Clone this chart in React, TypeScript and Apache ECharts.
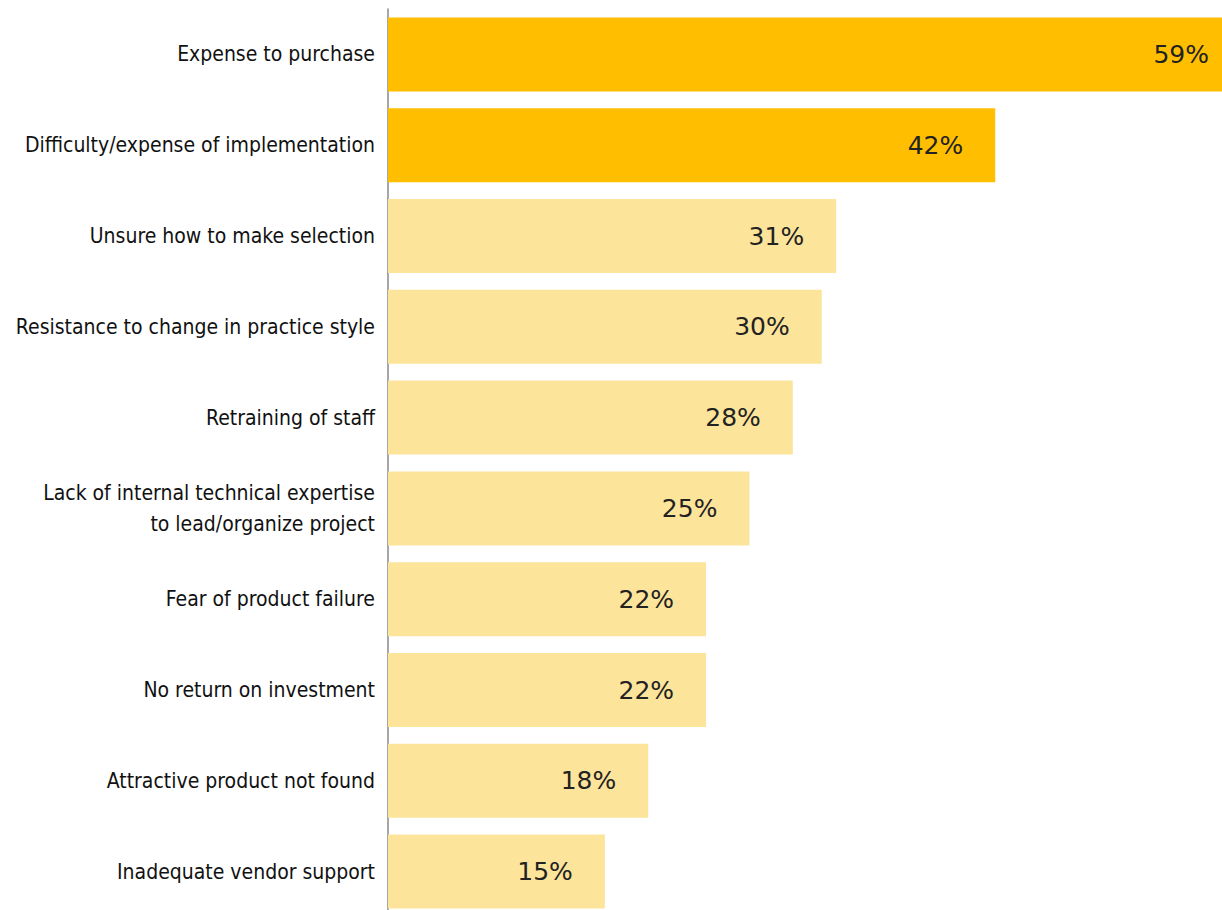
import React, { useEffect, useRef } from "react";
import * as echarts from "echarts";

const categories: string[] = [
  "Expense to purchase",
  "Difficulty/expense of implementation",
  "Unsure how to make selection",
  "Resistance to change in practice style",
  "Retraining of staff",
  "Lack of internal technical expertise\nto lead/organize project",
  "Fear of product failure",
  "No return on investment",
  "Attractive product not found",
  "Inadequate vendor support",
];

const values: number[] = [59, 42, 31, 30, 28, 25, 22, 22, 18, 15];

const topBarsHighlighted = 2;

const DARK = "#FFBF00";
const LIGHT = "#FDE49B";

export default function App() {
  const ref = useRef<HTMLDivElement>(null);

  useEffect(() => {
    if (!ref.current) return;
    const chart = echarts.init(ref.current, undefined, { renderer: "svg" });
    chart.setOption({
      animation: false,
      backgroundColor: "#ffffff",
      grid: {
        left: 388,
        top: 9,
        width: 853,
        height: 908,
        containLabel: false,
        outerBoundsMode: "none",
      },
      xAxis: {
        type: "value",
        min: 0,
        max: 59,
        show: false,
        splitLine: { show: false },
      },
      yAxis: {
        type: "category",
        data: categories,
        inverse: true,
        axisTick: { show: false },
        axisLine: { show: true, lineStyle: { color: "#8a8a8a", width: 1.5 } },
        axisLabel: {
          margin: 13,
          color: "#111111",
          fontFamily: "'Liberation Sans Narrow', 'DejaVu Sans Condensed', sans-serif",
          fontSize: 21,
          lineHeight: 31,
          align: "right",
        },
        splitLine: { show: false },
      },
      series: [
        {
          type: "bar",
          data: values.map((v, i) => ({
            value: v,
            itemStyle: { color: i < topBarsHighlighted ? DARK : LIGHT },
          })),
          barCategoryGap: "18.5%",
          clip: false,
          label: {
            show: true,
            position: "insideRight",
            distance: 32,
            formatter: "{c}%",
            color: "#222222",
            fontFamily: "'DejaVu Sans', sans-serif",
            fontSize: 25,
          },
        },
      ],
    });
    return () => chart.dispose();
  }, []);

  return (
    <div
      ref={ref}
      style={{ position: "absolute", left: 0, top: 0, width: 1222, height: 910 }}
    />
  );
}
